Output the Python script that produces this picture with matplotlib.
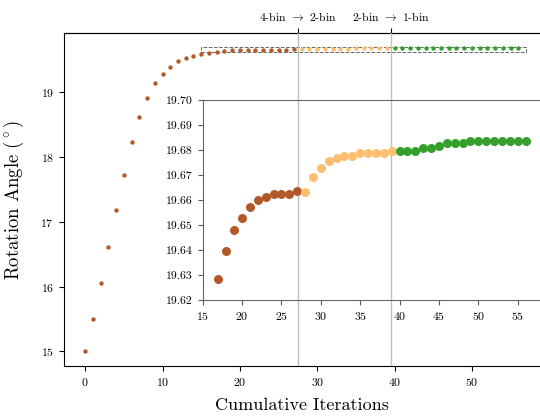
import matplotlib
matplotlib.use('Agg')
import matplotlib.pyplot as plt
from matplotlib.patches import Rectangle
import numpy as np

plt.rcParams['font.family'] = 'cmr10'
plt.rcParams['mathtext.fontset'] = 'cm'
plt.rcParams['axes.formatter.use_mathtext'] = True

# rotation angle per cumulative iteration
angle = np.array([
    15.000, 15.506, 16.048, 16.610, 17.190, 17.730, 18.230, 18.620, 18.920, 19.140,
    19.290, 19.400, 19.480, 19.530, 19.570, 19.595, 19.613, 19.6285, 19.6397, 19.6479,
    19.6529, 19.6571, 19.6601, 19.6612, 19.6623, 19.6623, 19.6623, 19.6635,  # 4-bin
    19.6633, 19.6691, 19.6729, 19.6757, 19.6767, 19.6777, 19.6777, 19.6787,
    19.6787, 19.6787, 19.6787, 19.6796,                                      # 2-bin
    19.6796, 19.6796, 19.6796, 19.6807, 19.6807, 19.6817, 19.6827, 19.6827,
    19.6827, 19.6836, 19.6836, 19.6836, 19.6836, 19.6836, 19.6836, 19.6836,
    19.6836,                                                                 # 1-bin
])
iters = np.arange(len(angle))
stage_ends = [28, 40, 57]
stage_colors = ['#b15928', '#fdbf6f', '#33a02c']
transitions = [27.5, 39.5]
transition_labels = [r'4-bin ${\rightarrow}$ 2-bin', r'2-bin ${\rightarrow}$ 1-bin']

fig = plt.figure(figsize=(5.4, 4.16), dpi=100)
ax = fig.add_axes([0.1176, 0.119, 0.8824, 0.8017])

start = 0
for end, c in zip(stage_ends, stage_colors):
    ax.scatter(iters[start:end], angle[start:end], s=10, color=c, zorder=3, linewidths=0)
    start = end

for t in transitions:
    ax.axvline(t, color='0.75', lw=1.0, zorder=5)

ax.add_patch(Rectangle((15, 19.62), 42, 0.08, fill=False, ls='--', lw=0.7,
                       ec='0.4', zorder=2))

ax.set_xlabel('Cumulative Iterations', fontsize=13, labelpad=7)
ax.set_ylabel(r'Rotation Angle ($^\circ$)', fontsize=13.5, labelpad=10)
ax.set_yticks([15, 16, 17, 18, 19])
ax.tick_params(labelsize=8.5, length=3.5)
ax.spines['right'].set_visible(False)

top = ax.secondary_xaxis('top')
top.set_xticks(transitions)
top.set_xticklabels(transition_labels)
top.tick_params(labelsize=8.5, length=3.5)

# zoomed inset
axin = fig.add_axes([0.3754, 0.2788, 0.627, 0.4808])
axin.patch.set_alpha(0)
start = 0
for end, c in zip(stage_ends, stage_colors):
    axin.scatter(iters[start:end], angle[start:end], s=42, color=c, zorder=3,
                 linewidths=0)
    start = end
axin.set_xlim(15, 58)
axin.set_ylim(19.62, 19.70)
axin.set_xticks(np.arange(15, 56, 5))
axin.set_yticks(np.arange(19.62, 19.7001, 0.01))
axin.yaxis.set_major_formatter(plt.FormatStrFormatter('%.2f'))
axin.tick_params(labelsize=8.5, length=3.5, color='0.35')
for s in axin.spines.values():
    s.set_color('0.4')

fig.savefig('out.png', dpi=100)
